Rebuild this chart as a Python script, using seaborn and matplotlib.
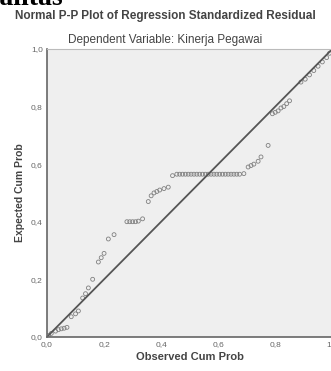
import numpy as np
import pandas as pd
import matplotlib
matplotlib.use("Agg")
import matplotlib.pyplot as plt
import seaborn as sns

# observed vs expected cumulative probabilities
observed = [0.005, 0.015, 0.03, 0.04, 0.05, 0.06, 0.07, 0.085, 0.10, 0.11,
            0.125, 0.135, 0.145, 0.16, 0.18, 0.19, 0.20, 0.215, 0.235, 0.28,
            0.29, 0.30, 0.31, 0.32, 0.335, 0.355, 0.365, 0.375, 0.385, 0.395,
            0.41, 0.425, 0.44, 0.455, 0.465, 0.475, 0.485, 0.495, 0.505, 0.515,
            0.525, 0.535, 0.545, 0.555, 0.565, 0.575, 0.585, 0.595, 0.605, 0.615,
            0.625, 0.635, 0.645, 0.655, 0.665, 0.675, 0.69, 0.705, 0.715, 0.725,
            0.74, 0.75, 0.775, 0.79, 0.80, 0.81, 0.82, 0.83, 0.84, 0.85,
            0.89, 0.905, 0.92, 0.935, 0.95, 0.965, 0.98, 0.99, 1.0]
expected = [0.005, 0.012, 0.02, 0.025, 0.028, 0.03, 0.033, 0.07, 0.08, 0.09,
            0.135, 0.15, 0.17, 0.20, 0.26, 0.275, 0.29, 0.34, 0.355, 0.40,
            0.40, 0.40, 0.40, 0.402, 0.41, 0.47, 0.49, 0.50, 0.505, 0.51,
            0.515, 0.52, 0.56, 0.565, 0.565, 0.565, 0.565, 0.565, 0.565, 0.565,
            0.565, 0.565, 0.565, 0.565, 0.565, 0.565, 0.565, 0.565, 0.565, 0.565,
            0.565, 0.565, 0.565, 0.565, 0.565, 0.565, 0.567, 0.59, 0.595, 0.60,
            0.61, 0.625, 0.665, 0.775, 0.78, 0.785, 0.795, 0.80, 0.81, 0.82,
            0.885, 0.895, 0.91, 0.925, 0.94, 0.955, 0.97, 0.985, 0.995]
ticks = [0.0, 0.2, 0.4, 0.6, 0.8, 1.0]
tick_labels = ["0,0", "0,2", "0,4", "0,6", "0,8", "1,0"]

df = pd.DataFrame({"Observed Cum Prob": observed, "Expected Cum Prob": expected})
ref = pd.DataFrame({"x": [0.0, 1.0], "y": [0.0, 1.0]})

sns.set_style("white")
plt.rcParams["font.family"] = ["Liberation Sans", "DejaVu Sans"]

fig = plt.figure(figsize=(3.31, 3.71), dpi=100)
ax = fig.add_axes([0.142, 0.092, 0.862, 0.776])
ax.set_facecolor("#efefef")

sns.lineplot(data=ref, x="x", y="y", ax=ax, color="#555555", linewidth=1.3)
sns.scatterplot(data=df, x="Observed Cum Prob", y="Expected Cum Prob", ax=ax,
                marker="o", s=8, facecolor="none", edgecolor="#808080",
                linewidth=0.6)

ax.set_xlim(0, 1)
ax.set_ylim(0, 1)
ax.set_xticks(ticks)
ax.set_xticklabels(tick_labels)
ax.set_yticks(ticks)
ax.set_yticklabels(tick_labels)
ax.tick_params(labelsize=6, colors="#666666", length=2, width=0.6, pad=1)
for side in ["left", "bottom"]:
    ax.spines[side].set_color("#666666")
    ax.spines[side].set_linewidth(1.2)
for side in ["top", "right"]:
    ax.spines[side].set_color("#bbbbbb")
    ax.spines[side].set_linewidth(0.8)

ax.set_xlabel("Observed Cum Prob", fontsize=8, fontweight="bold",
              color="#444444", labelpad=3)
ax.set_ylabel("Expected Cum Prob", fontsize=7.5, fontweight="bold",
              color="#444444", labelpad=4)

fig.text(0.5, 0.958, "Normal P-P Plot of Regression Standardized Residual",
         ha="center", va="center", fontsize=8.5, fontweight="bold", color="#444444")
fig.text(0.5, 0.892, "Dependent Variable: Kinerja Pegawai",
         ha="center", va="center", fontsize=8.5, color="#444444")
fig.text(0.19, 0.987, "Normalitas", ha="right", va="baseline",
         fontsize=20, fontweight="bold", family="Liberation Serif", color="black")

fig.savefig("out.png", dpi=100)
